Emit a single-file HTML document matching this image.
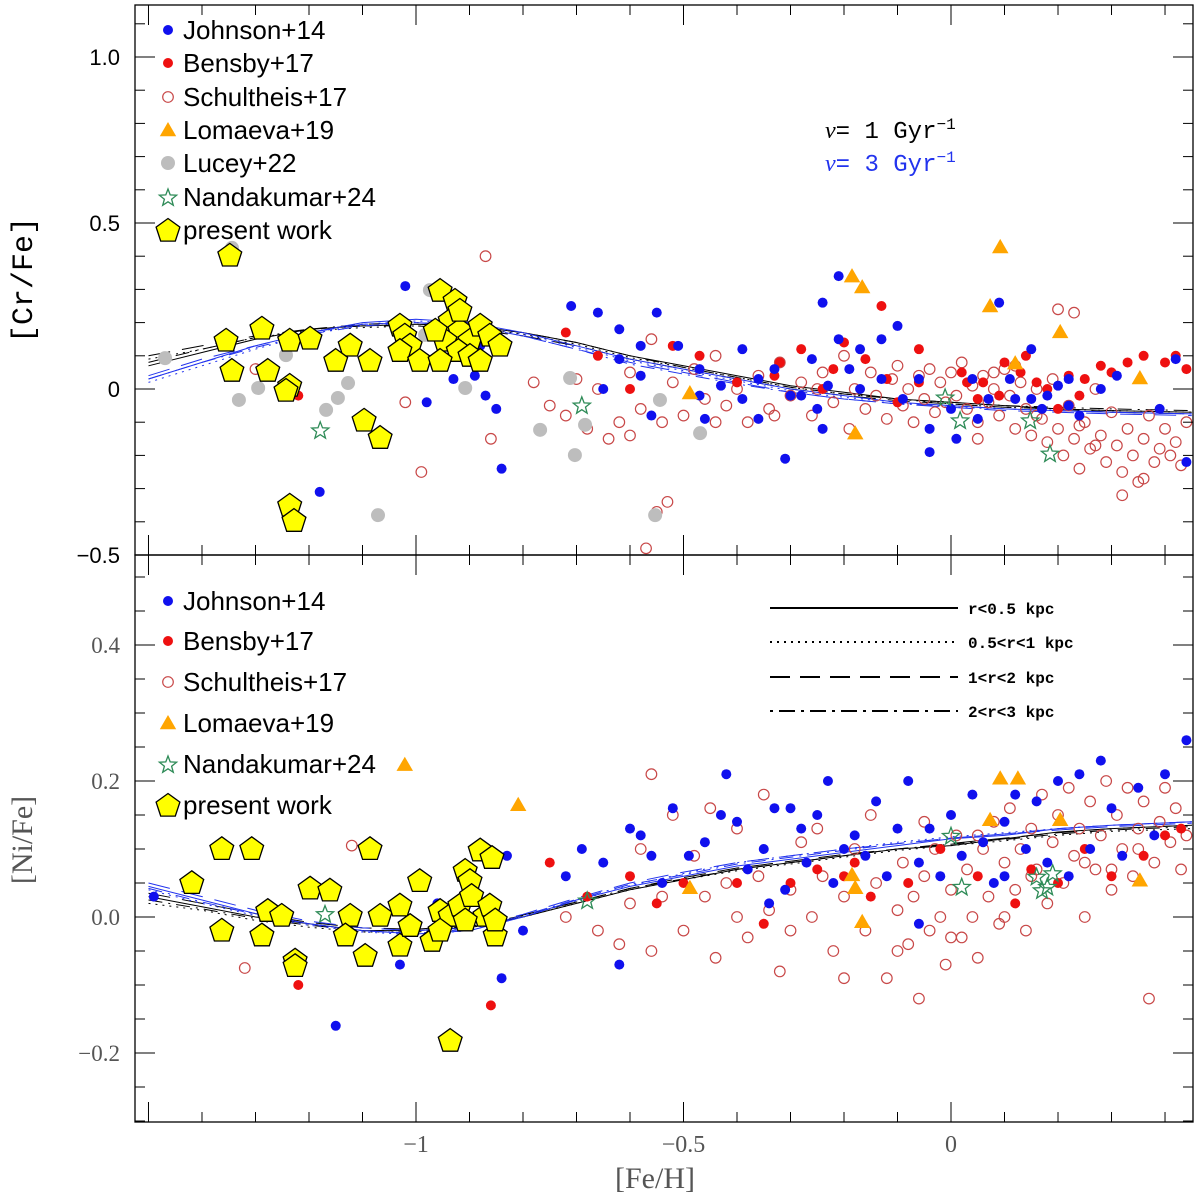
<!DOCTYPE html>
<html><head><meta charset="utf-8">
<style>
html,body{margin:0;padding:0;background:#fff;}
svg{display:block;}
</style></head>
<body>
<svg id="chart" width="1200" height="1200" viewBox="0 0 1200 1200" xmlns="http://www.w3.org/2000/svg"></svg>
<script>
// ---------- DATA ----------
const curveFeh = [-1.5,-1.4,-1.3,-1.2,-1.1,-1.0,-0.9,-0.8,-0.7,-0.6,-0.5,-0.4,-0.3,-0.2,-0.1,0,0.1,0.2,0.3,0.45];
const crBlackSolid = [0.07,0.11,0.15,0.18,0.19,0.195,0.19,0.17,0.14,0.10,0.07,0.04,0.01,-0.01,-0.03,-0.04,-0.05,-0.06,-0.065,-0.07];
const crBlackDot   = [0.09,0.12,0.155,0.175,0.185,0.19,0.185,0.165,0.135,0.095,0.065,0.035,0.005,-0.015,-0.03,-0.045,-0.055,-0.06,-0.065,-0.07];
const crBlackDash  = [0.10,0.13,0.16,0.18,0.19,0.19,0.18,0.16,0.13,0.09,0.06,0.03,0.0,-0.02,-0.035,-0.045,-0.055,-0.06,-0.07,-0.075];
const crBlackDashDot=[0.08,0.12,0.155,0.18,0.195,0.2,0.19,0.17,0.14,0.10,0.065,0.035,0.005,-0.015,-0.03,-0.04,-0.05,-0.055,-0.06,-0.065];
const crBlueSolid  = [0.03,0.08,0.13,0.17,0.20,0.21,0.20,0.17,0.13,0.09,0.06,0.03,0.0,-0.02,-0.04,-0.05,-0.06,-0.065,-0.07,-0.075];
const crBlueDot    = [0.02,0.07,0.12,0.165,0.195,0.205,0.195,0.165,0.125,0.085,0.055,0.025,-0.005,-0.025,-0.04,-0.055,-0.06,-0.065,-0.07,-0.075];
const crBlueDash   = [0.04,0.09,0.13,0.17,0.195,0.2,0.19,0.16,0.12,0.08,0.05,0.02,-0.01,-0.03,-0.045,-0.055,-0.065,-0.07,-0.075,-0.08];
const crBlueDashDot= [0.03,0.08,0.125,0.165,0.19,0.2,0.19,0.16,0.12,0.075,0.045,0.015,-0.01,-0.03,-0.045,-0.05,-0.06,-0.065,-0.07,-0.075];
const niBlackSolid = [0.03,0.015,0.0,-0.01,-0.02,-0.02,-0.015,0.0,0.02,0.04,0.055,0.07,0.08,0.09,0.10,0.105,0.115,0.125,0.13,0.135];
const niBlackDot   = [0.02,0.01,-0.005,-0.015,-0.022,-0.022,-0.016,0.0,0.02,0.04,0.055,0.068,0.078,0.088,0.098,0.105,0.112,0.12,0.126,0.13];
const niBlackDash  = [0.035,0.02,0.005,-0.008,-0.016,-0.018,-0.012,0.003,0.022,0.042,0.058,0.072,0.082,0.092,0.10,0.108,0.116,0.124,0.13,0.135];
const niBlackDashDot=[0.025,0.012,-0.002,-0.012,-0.02,-0.02,-0.014,0.002,0.022,0.042,0.056,0.07,0.08,0.09,0.10,0.107,0.114,0.122,0.128,0.133];
const niBlueSolid  = [0.045,0.025,0.005,-0.01,-0.02,-0.025,-0.02,0.0,0.025,0.045,0.06,0.075,0.085,0.095,0.105,0.115,0.12,0.13,0.135,0.14];
const niBlueDot    = [0.04,0.02,0.002,-0.012,-0.022,-0.026,-0.02,0.0,0.024,0.046,0.064,0.08,0.09,0.10,0.11,0.118,0.124,0.13,0.135,0.14];
const niBlueDash   = [0.05,0.03,0.01,-0.006,-0.016,-0.02,-0.016,0.004,0.028,0.05,0.066,0.08,0.09,0.10,0.108,0.116,0.122,0.128,0.133,0.138];
const niBlueDashDot= [0.042,0.022,0.004,-0.01,-0.02,-0.024,-0.018,0.002,0.026,0.048,0.062,0.078,0.088,0.098,0.108,0.116,0.122,0.13,0.135,0.14];

const crPresent = [[-1.348,0.404],[-1.288,0.184],[-1.236,0.148],[-1.355,0.148],[-1.344,0.057],[-1.277,0.057],[-1.236,0.012],[-1.243,-0.003],[-1.198,0.154],[-1.123,0.133],[-1.086,0.087],[-1.150,0.087],[-1.097,-0.093],[-1.067,-0.145],[-1.236,-0.349],[-1.228,-0.395],[-1.030,0.193],[-1.021,0.163],[-1.011,0.133],[-1.030,0.117],[-0.993,0.087],[-0.955,0.298],[-0.927,0.268],[-0.936,0.208],[-0.918,0.178],[-0.899,0.148],[-0.880,0.193],[-0.946,0.148],[-0.921,0.117],[-0.899,0.102],[-0.862,0.163],[-0.843,0.133],[-0.880,0.087],[-0.955,0.087],[-0.918,0.238],[-0.964,0.178]];
const crLucey = [[-1.344,0.425],[-1.331,-0.033],[-1.295,0.003],[-1.269,0.057],[-1.243,0.102],[-1.168,-0.063],[-1.146,-0.027],[-1.127,0.018],[-1.071,-0.38],[-0.974,0.298],[-0.983,0.163],[-0.908,0.003],[-0.768,-0.123],[-0.712,0.033],[-0.703,-0.199],[-0.684,-0.108],[-0.553,-0.38],[-0.544,-0.033],[-0.469,-0.133],[-1.469,0.093]];
const crLomaeva = [[-0.185,0.34],[-0.166,0.307],[-0.488,-0.012],[-0.179,-0.133],[0.092,0.428],[0.073,0.25],[0.204,0.172],[0.12,0.078],[0.353,0.033]];
const crNanda = [[-1.179,-0.123],[-0.69,-0.048],[-0.011,-0.024],[0.017,-0.093],[0.148,-0.093],[0.185,-0.193]];
const crJohnson = [[-1.02,0.31],[-1.18,-0.31],[-1.07,-0.14],[-0.98,-0.04],[-0.93,0.03],[-0.89,0.04],[-0.87,-0.02],[-0.88,0.13],[-0.85,-0.06],[-0.84,-0.24],[-0.71,0.25],[-0.66,0.23],[-0.62,0.18],[-0.58,0.13],[-0.62,0.09],[-0.65,0.0],[-0.58,0.04],[-0.55,0.23],[-0.51,0.13],[-0.47,0.06],[-0.47,-0.02],[-0.43,0.01],[-0.39,0.12],[-0.39,-0.03],[-0.36,0.03],[-0.33,0.06],[-0.30,-0.02],[-0.31,-0.21],[-0.28,-0.02],[-0.26,0.09],[-0.25,-0.06],[-0.24,-0.12],[-0.23,0.01],[-0.21,0.15],[-0.24,0.26],[-0.21,0.34],[-0.19,0.06],[-0.17,0.0],[-0.13,0.03],[-0.10,0.19],[-0.09,-0.03],[-0.06,0.03],[-0.04,-0.19],[0.0,-0.06],[0.01,-0.15],[0.04,0.03],[0.05,-0.09],[0.07,-0.03],[0.09,0.26],[0.11,0.03],[0.12,-0.03],[0.15,0.12],[0.15,-0.03],[0.17,-0.06],[0.18,-0.02],[0.20,0.01],[0.22,0.03],[0.24,-0.08],[0.28,0.0],[0.31,0.04],[0.42,0.09],[0.44,-0.22],[0.39,-0.06],[-0.04,-0.12],[-0.13,0.15],[-0.17,0.12],[-0.36,-0.09],[-0.46,-0.09],[-0.56,-0.08],[0.22,-0.05]];
const crBensby = [[-1.22,-0.02],[-0.72,0.17],[-0.66,0.1],[-0.60,0.0],[-0.52,0.13],[-0.47,0.1],[-0.40,0.02],[-0.33,0.04],[-0.28,0.12],[-0.24,0.0],[-0.20,0.14],[-0.16,0.09],[-0.13,0.25],[-0.12,0.03],[-0.10,-0.04],[-0.06,0.02],[0.02,0.05],[0.06,0.02],[0.10,0.08],[0.13,0.05],[0.16,0.02],[0.18,0.0],[0.22,0.04],[0.25,0.03],[0.28,0.07],[0.30,0.05],[0.33,0.08],[0.36,0.1],[0.40,0.08],[0.42,0.1],[0.44,0.06],[0.05,-0.03],[0.09,-0.02],[0.2,-0.06],[0.24,-0.02],[-0.32,0.08],[-0.22,0.06],[-0.06,0.12],[0.03,0.02],[0.14,0.1]];
const crSchult = [[-1.3,0.06],[-1.02,-0.04],[-0.99,-0.25],[-0.87,0.4],[-0.86,-0.15],[-0.78,0.02],[-0.75,-0.05],[-0.72,-0.08],[-0.7,0.03],[-0.68,-0.12],[-0.66,0.0],[-0.64,-0.15],[-0.62,-0.1],[-0.6,0.05],[-0.58,-0.06],[-0.56,0.15],[-0.55,-0.37],[-0.53,-0.34],[-0.57,-0.48],[-0.54,-0.1],[-0.52,0.02],[-0.5,-0.08],[-0.48,0.06],[-0.46,-0.03],[-0.44,0.1],[-0.42,-0.05],[-0.4,0.0],[-0.38,-0.1],[-0.36,0.04],[-0.34,-0.06],[-0.32,0.08],[-0.3,-0.02],[-0.28,0.02],[-0.26,-0.08],[-0.24,0.05],[-0.22,-0.04],[-0.2,0.1],[-0.19,-0.12],[-0.18,0.0],[-0.16,-0.06],[-0.15,0.05],[-0.14,-0.02],[-0.12,-0.09],[-0.11,0.03],[-0.1,0.07],[-0.09,-0.05],[-0.08,0.0],[-0.07,-0.1],[-0.06,0.04],[-0.05,-0.03],[-0.04,0.06],[-0.03,-0.07],[-0.02,0.02],[-0.01,-0.04],[0.0,0.05],[0.01,-0.02],[0.02,0.08],[0.03,-0.06],[0.04,0.01],[0.05,-0.1],[0.06,0.04],[0.07,-0.04],[0.08,0.0],[0.09,-0.08],[0.1,0.06],[0.11,-0.02],[0.12,-0.12],[0.13,0.02],[0.14,-0.06],[0.15,-0.14],[0.16,0.0],[0.17,-0.09],[0.18,-0.16],[0.19,0.03],[0.2,-0.12],[0.21,-0.2],[0.22,-0.05],[0.23,-0.15],[0.24,-0.24],[0.25,-0.1],[0.26,-0.18],[0.27,0.0],[0.28,-0.14],[0.29,-0.22],[0.3,-0.07],[0.31,-0.17],[0.32,-0.25],[0.33,-0.12],[0.34,-0.2],[0.35,-0.28],[0.36,-0.15],[0.37,-0.08],[0.38,-0.22],[0.39,-0.18],[0.4,-0.12],[0.41,-0.2],[0.42,-0.16],[0.43,-0.23],[0.44,-0.1],[0.2,0.24],[0.23,0.23],[0.16,-0.08],[0.24,-0.11],[0.27,-0.17],[0.32,-0.32],[0.36,-0.27],[0.12,0.07],[0.08,0.05],[-0.25,0.0],[-0.44,-0.1],[-0.33,-0.08],[0.05,-0.15],[-0.6,-0.14]];

const niPresent = [[-1.419,0.051],[-1.363,0.101],[-1.307,0.101],[-1.363,-0.019],[-1.288,-0.026],[-1.277,0.01],[-1.251,0.003],[-1.226,-0.063],[-1.226,-0.071],[-1.198,0.043],[-1.161,0.04],[-1.123,0.003],[-1.132,-0.026],[-1.086,0.101],[-1.067,0.003],[-1.095,-0.056],[-1.03,-0.041],[-1.03,0.018],[-1.011,-0.012],[-0.993,0.054],[-0.97,-0.034],[-0.955,0.01],[-0.936,0.003],[-0.918,0.018],[-0.908,0.069],[-0.899,0.054],[-0.896,0.032],[-0.871,0.003],[-0.862,0.018],[-0.88,0.099],[-0.852,-0.026],[-0.852,-0.004],[-0.936,-0.181],[-0.858,0.088],[-0.955,-0.019],[-0.908,-0.004]];
const niLomaeva = [[-1.021,0.224],[-0.809,0.165],[-0.488,0.043],[-0.185,0.062],[-0.166,-0.007],[-0.179,0.043],[0.092,0.204],[0.125,0.204],[0.073,0.143],[0.204,0.143],[0.353,0.054]];
const niNanda = [[-1.17,0.005],[-0.68,0.025],[0.0,0.12],[0.02,0.045],[0.16,0.06],[0.19,0.065],[0.18,0.045],[0.17,0.04]];
const niJohnson = [[-1.49,0.03],[-1.15,-0.16],[-1.03,-0.07],[-0.83,0.09],[-0.84,-0.09],[-0.8,-0.02],[-0.72,0.06],[-0.69,0.1],[-0.65,0.08],[-0.62,-0.07],[-0.60,0.13],[-0.56,0.09],[-0.54,0.05],[-0.52,0.16],[-0.49,0.09],[-0.46,0.11],[-0.43,0.15],[-0.42,0.21],[-0.40,0.14],[-0.38,0.07],[-0.35,0.1],[-0.33,0.16],[-0.30,0.16],[-0.28,0.13],[-0.27,0.08],[-0.25,0.15],[-0.23,0.20],[-0.22,0.05],[-0.2,0.10],[-0.18,0.12],[-0.16,0.09],[-0.14,0.17],[-0.12,0.06],[-0.1,0.13],[-0.08,0.2],[-0.06,0.08],[-0.04,0.13],[-0.02,0.06],[0.0,0.15],[0.02,0.09],[0.04,0.18],[0.06,0.11],[0.08,0.05],[0.1,0.14],[0.12,0.18],[0.14,0.1],[0.16,0.17],[0.18,0.08],[0.2,0.20],[0.22,0.06],[0.24,0.21],[0.26,0.10],[0.28,0.23],[0.3,0.16],[0.32,0.09],[0.35,0.19],[0.38,0.12],[0.4,0.21],[0.44,0.26],[-0.92,0.01],[-0.96,0.02],[-0.58,0.12],[-0.34,0.02],[-0.31,0.04],[-0.06,-0.01],[0.1,0.06]];
const niBensby = [[-1.22,-0.10],[-1.1,-0.05],[-0.86,-0.13],[-0.75,0.08],[-0.68,0.03],[-0.6,0.06],[-0.55,0.02],[-0.5,0.05],[-0.35,-0.01],[-0.3,0.05],[-0.25,0.07],[-0.2,0.06],[-0.18,0.08],[-0.15,0.03],[-0.08,0.05],[-0.02,0.1],[0.05,0.06],[0.12,0.02],[0.15,0.07],[0.2,0.05],[0.25,0.1],[0.3,0.06],[0.36,0.09],[0.4,0.12],[0.43,0.13],[-0.4,0.05]];
const niSchult = [[-1.32,-0.075],[-1.12,0.105],[-0.72,0.0],[-0.66,-0.02],[-0.62,-0.04],[-0.6,0.02],[-0.58,0.1],[-0.56,-0.05],[-0.54,0.03],[-0.52,0.15],[-0.5,-0.02],[-0.48,0.09],[-0.46,0.03],[-0.44,-0.06],[-0.42,0.05],[-0.4,0.13],[-0.38,-0.03],[-0.36,0.06],[-0.34,0.01],[-0.32,-0.08],[-0.3,0.04],[-0.28,0.11],[-0.26,0.0],[-0.24,0.06],[-0.22,-0.05],[-0.2,0.03],[-0.18,0.1],[-0.16,-0.02],[-0.14,0.05],[-0.12,-0.09],[-0.1,0.01],[-0.09,0.08],[-0.08,-0.04],[-0.07,0.03],[-0.06,-0.12],[-0.05,0.06],[-0.04,-0.02],[-0.03,0.1],[-0.02,0.0],[-0.01,-0.07],[0.0,0.04],[0.01,0.12],[0.02,-0.03],[0.03,0.07],[0.04,0.0],[0.05,-0.06],[0.06,0.1],[0.07,0.03],[0.08,0.14],[0.09,-0.01],[0.1,0.08],[0.11,0.16],[0.12,0.04],[0.13,0.1],[0.14,-0.02],[0.15,0.13],[0.16,0.07],[0.17,0.18],[0.18,0.02],[0.19,0.11],[0.2,0.15],[0.21,0.05],[0.22,0.19],[0.23,0.09],[0.24,0.13],[0.25,0.0],[0.26,0.17],[0.27,0.07],[0.28,0.12],[0.29,0.2],[0.3,0.04],[0.31,0.15],[0.32,0.1],[0.33,0.19],[0.34,0.06],[0.35,0.13],[0.36,0.17],[0.37,-0.12],[0.38,0.08],[0.39,0.14],[0.4,0.19],[0.41,0.11],[0.42,0.16],[0.43,0.07],[0.44,0.12],[-0.35,0.18],[-0.25,0.13],[-0.15,0.15],[-0.05,0.14],[0.05,0.12],[-0.45,0.16],[-0.56,0.21],[-0.2,-0.09],[-0.1,-0.05],[0.0,-0.03],[0.1,0.0],[-0.3,-0.02],[-0.4,0.0],[0.15,0.06],[0.25,0.08],[0.35,0.1],[0.3,0.07]];

const xTickLabels = [-1,-0.5,0];
const crTickLabels = [-0.5,0,0.5,1.0];
const niTickLabels = [-0.2,0,0.2,0.4];

// ---------- AXES ----------
const L=135,R=1193, T1=5,B1=555, T2=555,B2=1122;
const X0=-1.5252, X1=0.4523;
function sx(v){return L+(v-X0)/(X1-X0)*(R-L);}
function syCr(v){return 389-v*332;}
function syNi(v){return 917-v*680;}

const NS="http://www.w3.org/2000/svg";
const svg=document.getElementById('chart');
function mk(tag,attrs,parent){const e=document.createElementNS(NS,tag);for(const k in attrs)e.setAttribute(k,attrs[k]);(parent||svg).appendChild(e);return e;}

// clip paths
const defs=mk('defs',{});
const c1=mk('clipPath',{id:'clipTop'},defs);mk('rect',{x:L,y:T1,width:R-L,height:B1-T1},c1);
const c2=mk('clipPath',{id:'clipBot'},defs);mk('rect',{x:L,y:T2,width:R-L,height:B2-T2},c2);

const gTop=mk('g',{'clip-path':'url(#clipTop)'});


const gBot=mk('g',{'clip-path':'url(#clipBot)'});



// curves
const dashes={solid:'',dot:'2,5',dash:'22,12',dashdot:'14,6,2,6'};
function curve(g,ys,sy,color,style,name){
  let d='';
  curveFeh.forEach((f,i)=>{d+=(i?'L':'M')+sx(f).toFixed(1)+','+sy(ys[i]).toFixed(1);});
  const p=mk('path',{d:d,fill:'none',stroke:color,'stroke-width':1,'stroke-dasharray':dashes[style]},g);
  
  
}
curve(gTop,crBlackSolid,syCr,'#000','solid','cr-model-nu1-r05');
curve(gTop,crBlackDot,syCr,'#000','dot','cr-model-nu1-r1');
curve(gTop,crBlackDash,syCr,'#000','dash','cr-model-nu1-r2');
curve(gTop,crBlackDashDot,syCr,'#000','dashdot','cr-model-nu1-r3');
curve(gTop,crBlueSolid,syCr,'#2233ee','solid','cr-model-nu3-r05');
curve(gTop,crBlueDot,syCr,'#2233ee','dot','cr-model-nu3-r1');
curve(gTop,crBlueDash,syCr,'#2233ee','dash','cr-model-nu3-r2');
curve(gTop,crBlueDashDot,syCr,'#2233ee','dashdot','cr-model-nu3-r3');
curve(gBot,niBlackSolid,syNi,'#000','solid','ni-model-nu1-r05');
curve(gBot,niBlackDot,syNi,'#000','dot','ni-model-nu1-r1');
curve(gBot,niBlackDash,syNi,'#000','dash','ni-model-nu1-r2');
curve(gBot,niBlackDashDot,syNi,'#000','dashdot','ni-model-nu1-r3');
curve(gBot,niBlueSolid,syNi,'#2233ee','solid','ni-model-nu3-r05');
curve(gBot,niBlueDot,syNi,'#2233ee','dot','ni-model-nu3-r1');
curve(gBot,niBlueDash,syNi,'#2233ee','dash','ni-model-nu3-r2');
curve(gBot,niBlueDashDot,syNi,'#2233ee','dashdot','ni-model-nu3-r3');

// markers
function polyPts(cx,cy,r,n,rot,inner){
  let pts=[];
  const m=inner?n*2:n;
  for(let i=0;i<m;i++){
    const a=rot+i*2*Math.PI/m;
    const rr=inner&&i%2?inner:r;
    pts.push((cx+rr*Math.cos(a)).toFixed(1)+','+(cy+rr*Math.sin(a)).toFixed(1));
  }
  return pts.join(' ');
}
function marker(g,type,cx,cy,name){
  let e;
  if(type==='blue')e=mk('circle',{cx:cx,cy:cy,r:5,fill:'#1010ee'},g);
  else if(type==='red')e=mk('circle',{cx:cx,cy:cy,r:5,fill:'#ee1010'},g);
  else if(type==='open')e=mk('circle',{cx:cx,cy:cy,r:5.3,fill:'none',stroke:'#c84848','stroke-width':1.2},g);
  else if(type==='grey')e=mk('circle',{cx:cx,cy:cy,r:7,fill:'#bdbdbd'},g);
  else if(type==='tri')e=mk('polygon',{points:polyPts(cx,cy+1.5,9.5,3,-Math.PI/2),fill:'#ffa500'},g);
  else if(type==='star')e=mk('polygon',{points:polyPts(cx,cy+1,9,5,-Math.PI/2,3.8),fill:'none',stroke:'#2e8b57','stroke-width':1.3},g);
  else if(type==='pent')e=mk('polygon',{points:polyPts(cx,cy+1,12.5,5,-Math.PI/2),fill:'#ffff00',stroke:'#000','stroke-width':1.3},g);
  
  
  return e;
}
function series(g,data,sy,type,name){
  data.forEach(d=>marker(g,type,sx(d[0]),sy(d[1]),name));
}
series(gTop,crSchult,syCr,'open','schultheis17-point');
series(gTop,crLucey,syCr,'grey','lucey22-point');
series(gTop,crBensby,syCr,'red','bensby17-point');
series(gTop,crJohnson,syCr,'blue','johnson14-point');
series(gTop,crLomaeva,syCr,'tri','lomaeva19-point');
series(gTop,crPresent,syCr,'pent','present-work-point');
series(gTop,crNanda,syCr,'star','nandakumar24-point');

series(gBot,niSchult,syNi,'open','schultheis17-point');
series(gBot,niBensby,syNi,'red','bensby17-point');
series(gBot,niJohnson,syNi,'blue','johnson14-point');
series(gBot,niLomaeva,syNi,'tri','lomaeva19-point');
series(gBot,niPresent,syNi,'pent','present-work-point');
series(gBot,niNanda,syNi,'star','nandakumar24-point');

// frames
mk('rect',{x:L,y:T1,width:R-L,height:B1-T1,fill:'none',stroke:'#000','stroke-width':1.3});
mk('rect',{x:L,y:T2,width:R-L,height:B2-T2,fill:'none',stroke:'#000','stroke-width':1.3});

// ticks
const tg=mk('g',{stroke:'#000','stroke-width':1});


for(let i=-15;i<=4;i++){
  const v=i/10,x=sx(v);if(x<L||x>R)continue;
  const maj=(i%5===0);const len=maj?20:10;
  [[T1,1],[B1,-1],[T2,1],[B2,-1]].forEach(([y,s])=>mk('line',{x1:x,x2:x,y1:y,y2:y+s*len},tg));
}
for(let i=-5;i<=11;i++){
  const v=i/10,y=syCr(v);if(y<T1||y>B1)continue;
  const len=(i%5===0)?20:10;
  mk('line',{x1:L,x2:L+len,y1:y,y2:y},tg);mk('line',{x1:R,x2:R-len,y1:y,y2:y},tg);
}
for(let i=-6;i<=10;i++){
  const v=i/20,y=syNi(v);if(y<T2||y>B2)continue;
  const len=(i%4===0)?20:10;
  mk('line',{x1:L,x2:L+len,y1:y,y2:y},tg);mk('line',{x1:R,x2:R-len,y1:y,y2:y},tg);
}
function fmt(v){return (v<0?'\u2212':'')+(Math.abs(v)===1?'1.0':String(Math.abs(v)));}
crTickLabels.forEach(v=>{
  const t=mk('text',{x:120,y:syCr(v)+8,'text-anchor':'end','font-family':'Liberation Sans, sans-serif','font-size':22,fill:'#000'});
  t.textContent=fmt(v);
  
  
});
niTickLabels.forEach(v=>{
  const t=mk('text',{x:120,y:syNi(v)+8,'text-anchor':'end','font-family':'Liberation Serif, serif','font-size':23,fill:'#555'});
  t.textContent=v===0?'0.0':(v<0?'\u2212':'')+Math.abs(v);
  
  
});
xTickLabels.forEach(v=>{
  const t=mk('text',{x:sx(v),y:1152,'text-anchor':'middle','font-family':'Liberation Serif, serif','font-size':24,fill:'#555'});
  t.textContent=v===0?'0':'\u2212'+Math.abs(v);
  
  
});
// axis titles
let t=mk('text',{x:655,y:1188,'text-anchor':'middle','font-family':'Liberation Serif, serif','font-size':30,fill:'#555'});
t.textContent='[Fe/H]';


t=mk('text',{x:0,y:0,transform:'translate(32,280) rotate(-90)','text-anchor':'middle','font-family':'Liberation Mono, monospace','font-size':30,fill:'#000'});
t.textContent='[Cr/Fe]';


t=mk('text',{x:0,y:0,transform:'translate(32,840) rotate(-90)','text-anchor':'middle','font-family':'Liberation Serif, serif','font-size':30,fill:'#555'});
t.textContent='[Ni/Fe]';



// legends
const legTop=[['blue','Johnson+14'],['red','Bensby+17'],['open','Schultheis+17'],['tri','Lomaeva+19'],['grey','Lucey+22'],['star','Nandakumar+24'],['pent','present work']];
const legTopY=[30,63,97,130,163,197,230];
legTop.forEach((e,i)=>{
  marker(svg,e[0],168,legTopY[i],'legend-marker');
  const tt=mk('text',{x:183,y:legTopY[i]+9,'font-family':'Liberation Sans, sans-serif','font-size':26,fill:'#000'});
  tt.textContent=e[1];
  
  
});
const legBot=[['blue','Johnson+14'],['red','Bensby+17'],['open','Schultheis+17'],['tri','Lomaeva+19'],['star','Nandakumar+24'],['pent','present work']];
const legBotY=[601,641,682,723,764,805];
legBot.forEach((e,i)=>{
  marker(svg,e[0],168,legBotY[i],'legend-marker');
  const tt=mk('text',{x:183,y:legBotY[i]+9,'font-family':'Liberation Sans, sans-serif','font-size':26,fill:'#000'});
  tt.textContent=e[1];
  
  
});
// nu labels
t=mk('text',{x:825,y:138,'font-family':'Liberation Mono, monospace','font-size':24,fill:'#000'});
t.innerHTML='<tspan font-family="Liberation Serif, serif" font-style="italic">ν</tspan>= 1 Gyr<tspan font-size="16" dy="-9">−1</tspan>';


t=mk('text',{x:825,y:171,'font-family':'Liberation Mono, monospace','font-size':24,fill:'#2233ee'});
t.innerHTML='<tspan font-family="Liberation Serif, serif" font-style="italic">ν</tspan>= 3 Gyr<tspan font-size="16" dy="-9">−1</tspan>';


// line-style legend
const lsLeg=[['solid','r<0.5 kpc'],['dot','0.5<r<1 kpc'],['dash','1<r<2 kpc'],['dashdot','2<r<3 kpc']];
const lsY=[608,642,677,711];
lsLeg.forEach((e,i)=>{
  const ln=mk('line',{x1:770,x2:958,y1:lsY[i],y2:lsY[i],stroke:'#000','stroke-width':2,'stroke-dasharray':e[0]==='dot'?'2,5':e[0]==='dash'?'20,10':e[0]==='dashdot'?'3,6,16,6':''});
  
  
  const tt=mk('text',{x:968,y:lsY[i]+6,'font-family':'Liberation Mono, monospace','font-weight':'bold','font-size':16,fill:'#000'});
  tt.textContent=e[1];
  
  
});
</script>
</body></html>
